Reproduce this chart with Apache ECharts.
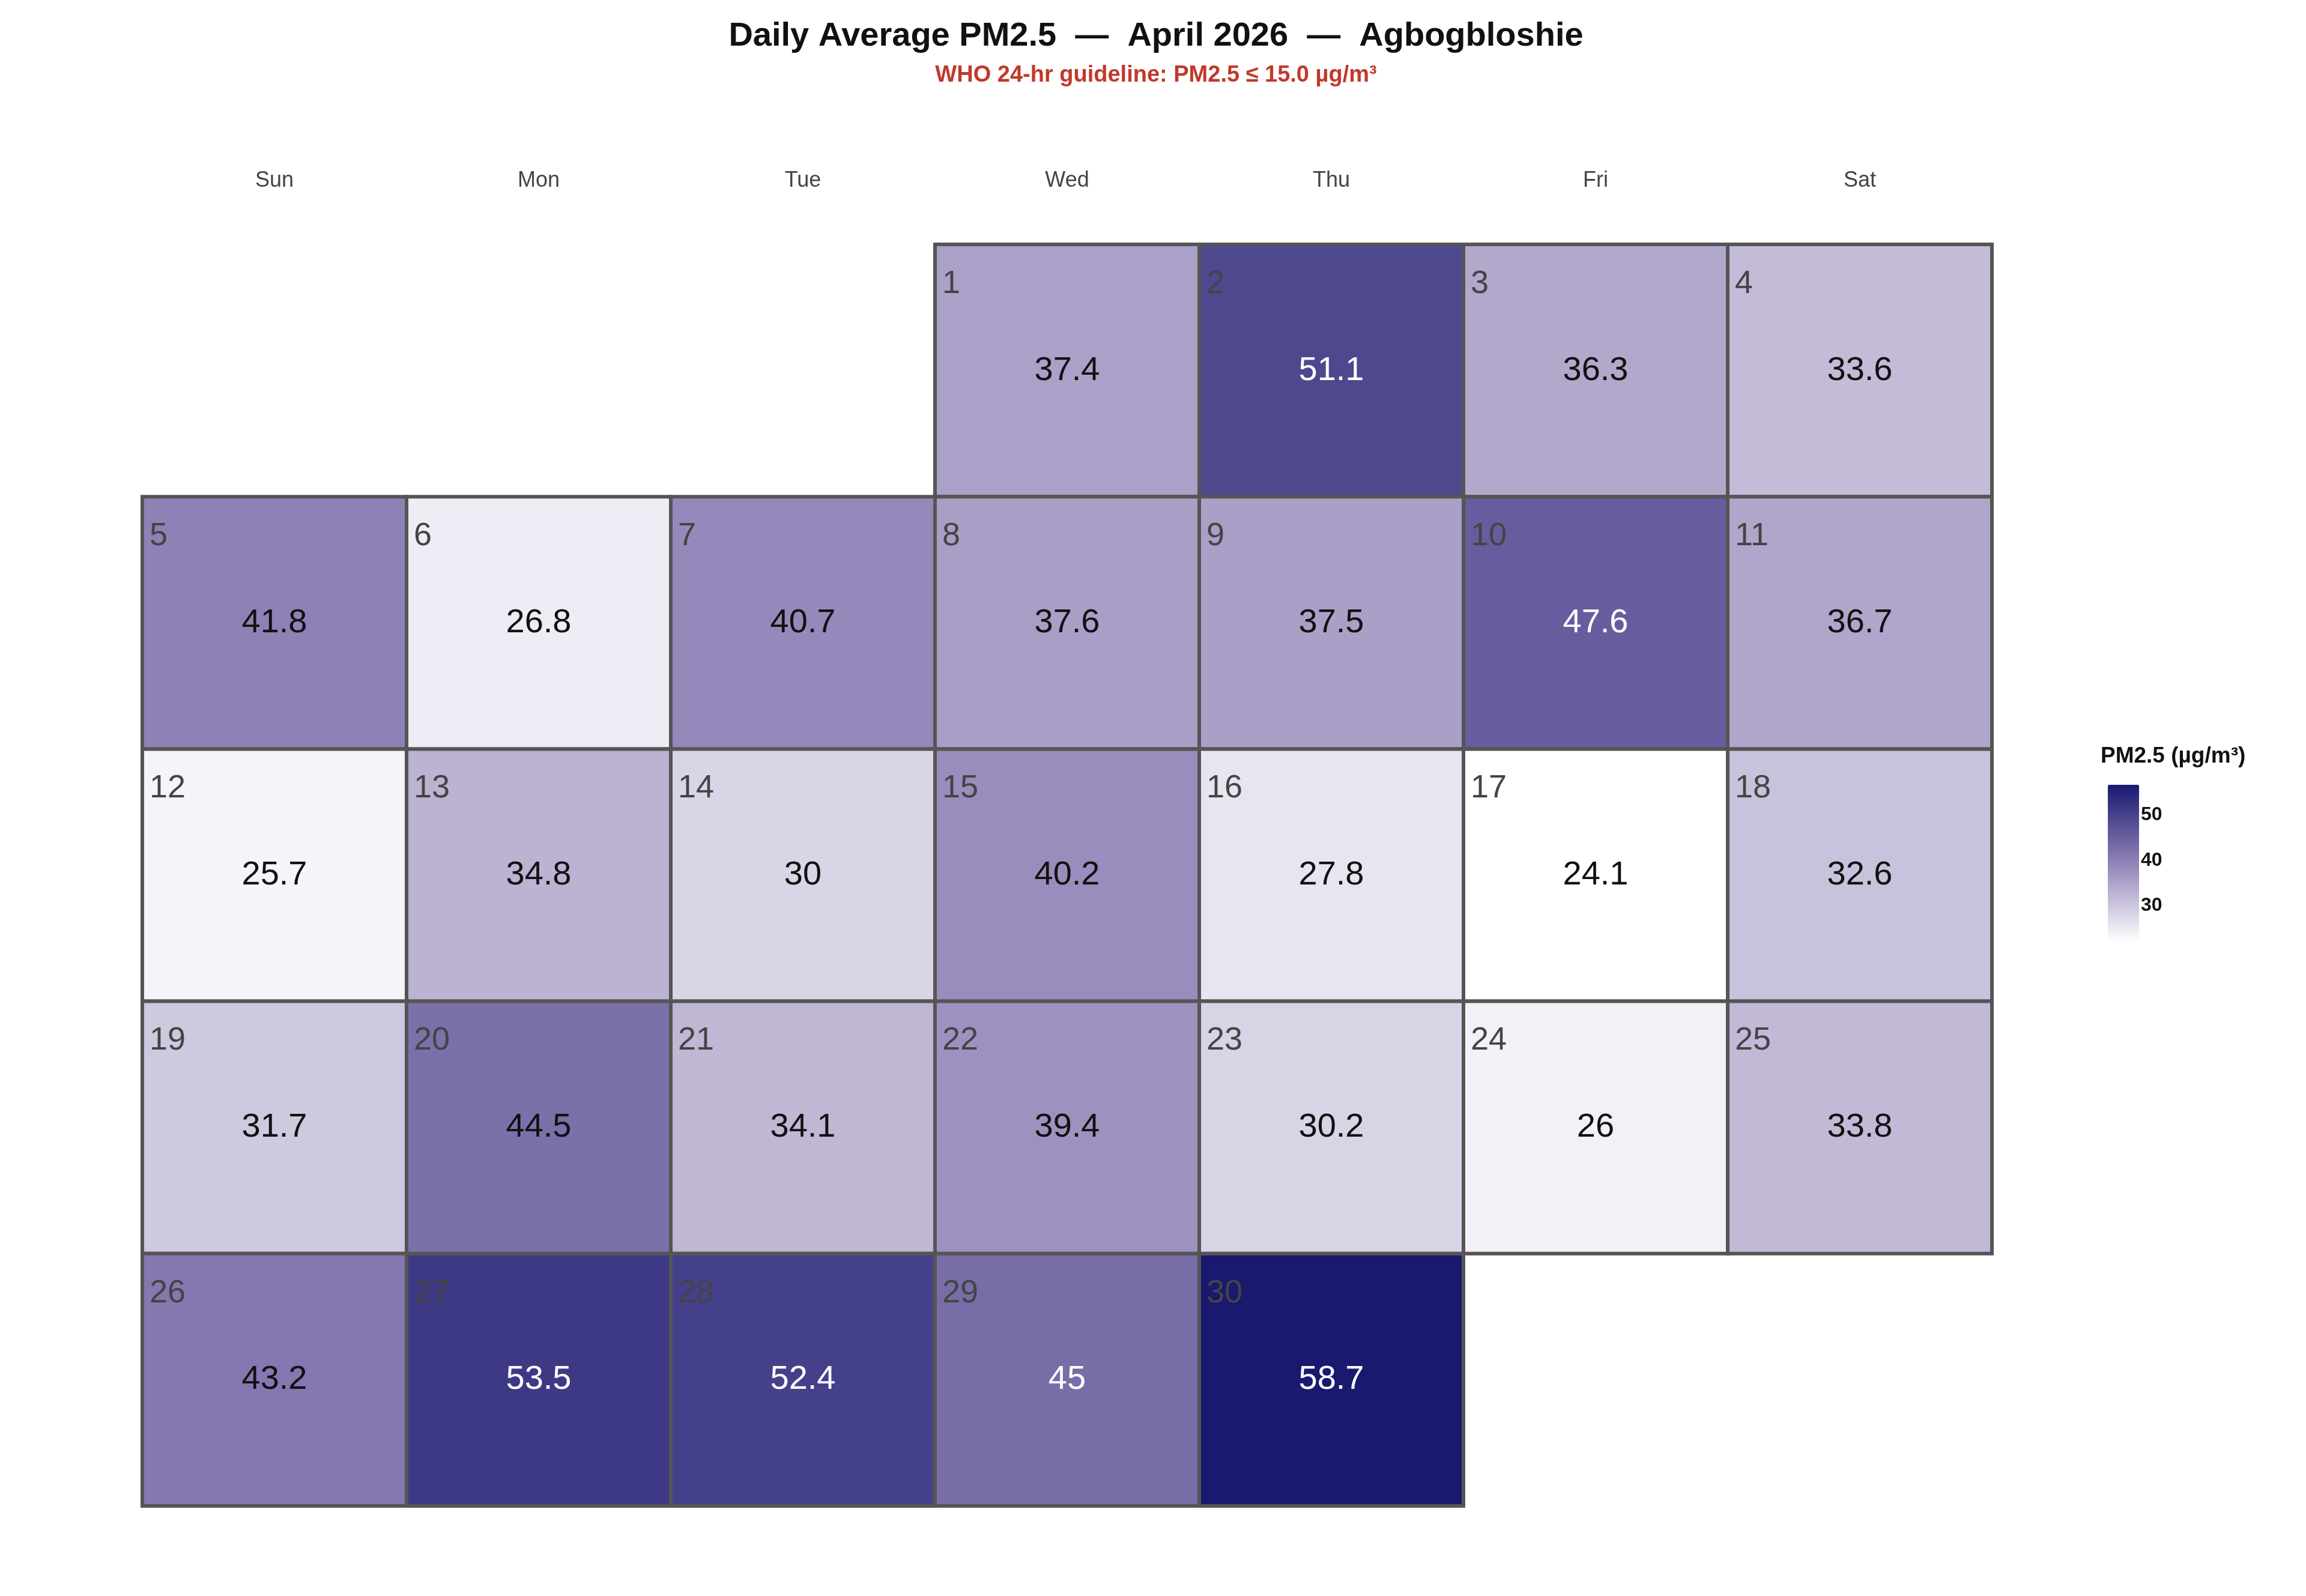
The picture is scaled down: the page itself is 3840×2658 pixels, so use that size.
<!DOCTYPE html>
<html>
<head>
<meta charset="utf-8">
<script src="https://cdn.jsdelivr.net/npm/echarts@6/dist/echarts.min.js"></script>
<style>html,body{margin:0;padding:0;background:#fff}#main{width:3840px;height:2658px}</style>
</head>
<body>
<div id="main"></div>
<script>
var weekdays = ['Sun', 'Mon', 'Tue', 'Wed', 'Thu', 'Fri', 'Sat'];
var days = [1,2,3,4,5,6,7,8,9,10,11,12,13,14,15,16,17,18,19,20,21,22,23,24,25,26,27,28,29,30];
var pm25 = [37.4,51.1,36.3,33.6,41.8,26.8,40.7,37.6,37.5,47.6,36.7,25.7,34.8,30,40.2,27.8,24.1,32.6,31.7,44.5,34.1,39.4,30.2,26,33.8,43.2,53.5,52.4,45,58.7];
var legendTicks = [30, 40, 50];
var firstWeekday = 3; // 1 April 2026 is a Wednesday

var cells = [];
for (var i = 0; i < days.length; i++) {
    var pos = firstWeekday + days[i] - 1;
    cells.push([pos % 7, Math.floor(pos / 7), pm25[i], days[i]]);
}
var vmin = 24.1, vmax = 58.7;

var chart = echarts.init(document.getElementById('main'));
chart.setOption({
    backgroundColor: '#fff',
    textStyle: { fontFamily: 'Liberation Sans, Arial, sans-serif' },
    title: [{
        text: 'Daily Average PM2.5  \u2014  April 2026  \u2014  Agbogbloshie',
        subtext: 'WHO 24-hr guideline: PM2.5 \u2264 15.0 \u00b5g/m\u00b3',
        left: 1920, textAlign: 'center', top: 28, itemGap: 18,
        textStyle: { fontSize: 56, fontWeight: 'bold', color: '#111' },
        subtextStyle: { fontSize: 38, fontWeight: 'bold', color: '#c0392b' }
    }, {
        text: 'PM2.5 (\u00b5g/m\u00b3)',
        left: 3493, top: 1236,
        textStyle: { fontSize: 37, fontWeight: 'bold', color: '#111' }
    }],
    grid: [
        { left: 237, right: 523, top: 407, bottom: 150 },
        { left: 3495, width: 52, top: 1292, height: 261 }
    ],
    xAxis: [{
        type: 'category', data: weekdays, position: 'top', gridIndex: 0,
        axisLine: { show: false }, axisTick: { show: false },
        axisLabel: { fontSize: 36, color: '#444', margin: 88 },
        splitLine: { show: false }
    }, {
        type: 'value', gridIndex: 1, show: false
    }],
    yAxis: [{
        type: 'category', data: [0, 1, 2, 3, 4], inverse: true, gridIndex: 0, show: false
    }, {
        type: 'value', gridIndex: 1, min: vmin, max: vmax, position: 'right',
        axisLine: { show: false },
        axisTick: { show: false },
        splitLine: { show: false },
        axisLabel: { customValues: legendTicks, fontSize: 32, fontWeight: 'bold', color: '#111', margin: 18 }
    }],
    visualMap: {
        type: 'continuous', min: vmin, max: vmax, dimension: 2, seriesIndex: 0,
        inRange: { color: ['#ffffff', '#9283b7', '#191970'] },
        left: 3495, top: 1292, itemWidth: 52, itemHeight: 261,
        calculable: false, text: null, showLabel: false,
        textStyle: { color: 'transparent' }
    },
    series: [{
        type: 'custom',
        xAxisIndex: 0, yAxisIndex: 0,
        data: cells,
        renderItem: function (params, api) {
            var c = api.coord([api.value(0), api.value(1)]);
            var s = api.size([1, 1]);
            var v = api.value(2);
            var x0 = c[0] - s[0] / 2, y0 = c[1] - s[1] / 2;
            return {
                type: 'group',
                children: [{
                    type: 'rect',
                    shape: { x: x0, y: y0, width: s[0], height: s[1] },
                    style: { fill: api.visual('color'), stroke: '#555', lineWidth: 6 }
                }, {
                    type: 'text',
                    style: {
                        x: x0 + 12, y: y0 + 66, text: String(api.value(3)),
                        fill: '#444', fontSize: 54, textVerticalAlign: 'middle',
                        fontFamily: 'Liberation Sans, Arial, sans-serif'
                    }
                }, {
                    type: 'text',
                    style: {
                        x: c[0], y: c[1], text: String(v),
                        fill: v > 44.8 ? '#fff' : '#111', fontSize: 56,
                        textAlign: 'center', textVerticalAlign: 'middle',
                        fontFamily: 'Liberation Sans, Arial, sans-serif'
                    }
                }]
            };
        }
    }]
});
</script>
</body>
</html>
